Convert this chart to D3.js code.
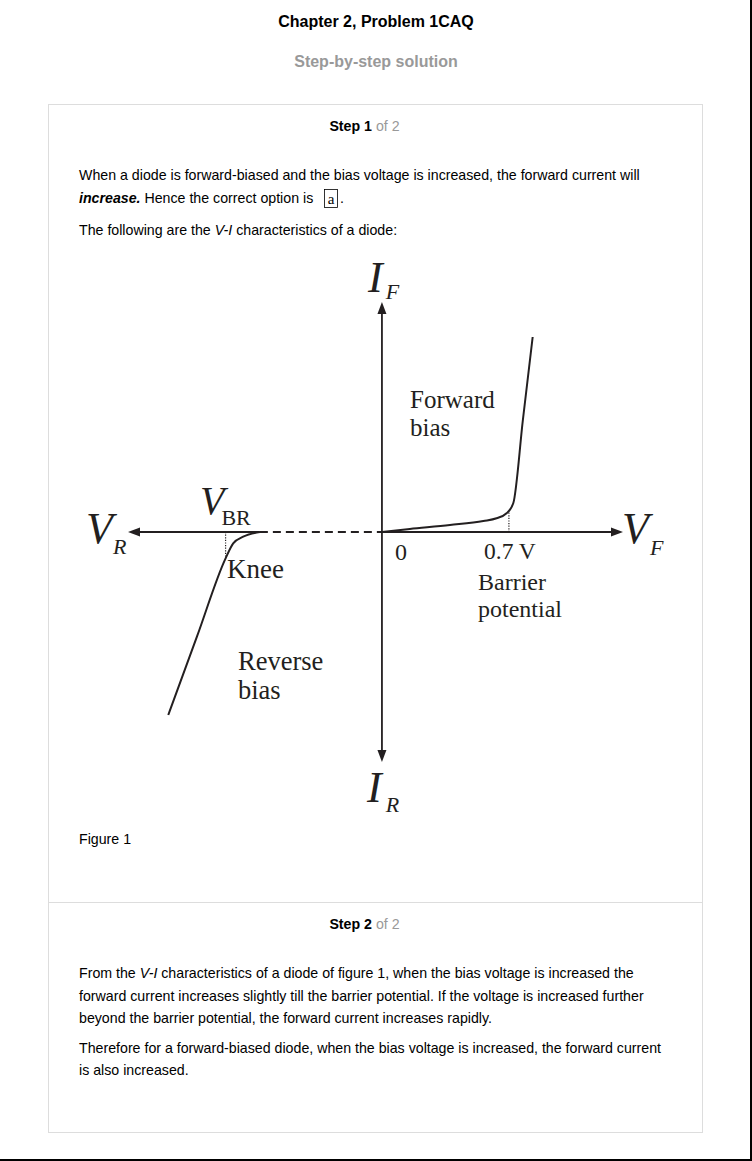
<!DOCTYPE html>
<html><head><meta charset="utf-8">
<script src="https://cdn.jsdelivr.net/npm/d3@7"></script>
<style>
html,body{margin:0;padding:0;background:#fff;}
svg{display:block;}
</style></head>
<body>
<svg id="page" width="752" height="1161"></svg>
<script>
// ---- data ----
const forwardV = [0, 0.154, 0.375, 0.559, 0.632, 0.687, 0.724, 0.777, 0.831];
const forwardI = [0, 0.3, 0.7, 1.1, 1.37, 1.87, 2.87, 11.2, 19.5];
const reverseV = [-1.178, -1.020, -0.862, -0.820, -0.765, -0.673];
const reverseI = [-18.3, -10.47, -2.63, -1.13, -0.47, 0];
const kneeV = [-0.862, 0.7];
const kneeI = [-2.63, 2.1];
const vDomain = [-1.4, 1.329];
const iDomain = [-23, 23];

const svg = d3.select("#page");
const ink = "#231f20";
const sans = "'Liberation Sans', Arial, sans-serif";
const serif = "'Liberation Serif', 'Times New Roman', serif";
const bodySize = 14.2;

// page frame
svg.append("line").attr("x1",751).attr("x2",751).attr("y1",0).attr("y2",1161).attr("stroke","#000").attr("stroke-width",2);
svg.append("line").attr("x1",0).attr("x2",752).attr("y1",1160).attr("y2",1160).attr("stroke","#000").attr("stroke-width",2);
// box
svg.append("rect").attr("x",48.5).attr("y",104.5).attr("width",654).attr("height",1028)
  .attr("fill","none").attr("stroke","#ddd").attr("stroke-width",1);
svg.append("line").attr("x1",48.5).attr("x2",702.5).attr("y1",902.5).attr("y2",902.5).attr("stroke","#ddd");

// headings
svg.append("text").attr("x",376).attr("y",27).attr("text-anchor","middle")
  .attr("font-family",sans).attr("font-size",16).attr("font-weight","bold").attr("fill","#000")
  .text("Chapter 2, Problem 1CAQ");
svg.append("text").attr("x",376).attr("y",67).attr("text-anchor","middle")
  .attr("font-family",sans).attr("font-size",16).attr("font-weight","bold").attr("fill","#999")
  .text("Step-by-step solution");

function stepHead(y, n){
  const t = svg.append("text").attr("x",364.5).attr("y",y).attr("text-anchor","middle")
    .attr("font-family",sans).attr("font-size",bodySize);
  t.append("tspan").attr("font-weight","bold").attr("fill","#000").text("Step "+n+" ");
  t.append("tspan").attr("fill","#999").text("of 2");
}
stepHead(131, 1);
stepHead(929, 2);

function para(x, y, parts){
  const t = svg.append("text").attr("x",x).attr("y",y).attr("font-family",sans).attr("font-size",bodySize).attr("fill","#000");
  parts.forEach(p=>{
    const s = t.append("tspan").text(p.t);
    if(p.b) s.attr("font-weight","bold");
    if(p.i) s.attr("font-style","italic");
  });
  return t;
}
para(79,180,[{t:"When a diode is forward-biased and the bias voltage is increased, the forward current will"}]);
para(79,203,[{t:"increase.",b:1,i:1},{t:" Hence the correct option is"}]);
const ox = 324;
svg.append("rect").attr("x",ox+0.5).attr("y",189.5).attr("width",13).attr("height",18).attr("fill","none").attr("stroke","#000").attr("stroke-width",0.8);
svg.append("text").attr("x",ox+7).attr("y",204).attr("text-anchor","middle").attr("font-family",serif).attr("font-size",15).text("a");
svg.append("text").attr("x",ox+16).attr("y",203).attr("font-family",sans).attr("font-size",bodySize).text(".");
para(79,235,[{t:"The following are the "},{t:"V-I",i:1},{t:" characteristics of a diode:"}]);
para(79,844,[{t:"Figure 1"}]);
para(79,978,[{t:"From the "},{t:"V-I",i:1},{t:" characteristics of a diode of figure 1, when the bias voltage is increased the"}]);
para(79,1001,[{t:"forward current increases slightly till the barrier potential. If the voltage is increased further"}]);
para(79,1023,[{t:"beyond the barrier potential, the forward current increases rapidly."}]);
para(79,1053,[{t:"Therefore for a forward-biased diode, when the bias voltage is increased, the forward current"}]);
para(79,1075,[{t:"is also increased."}]);

// ---- diagram ----
const x = d3.scaleLinear().domain(vDomain).range([128, 623]);
const y = d3.scaleLinear().domain(iDomain).range([762, 302]);
const g = svg.append("g");
const x0 = x(0), y0 = y(0);

// axes
g.append("line").attr("x1",x0).attr("x2",x0).attr("y1",y(iDomain[1])+8).attr("y2",y(iDomain[0])-8)
  .attr("stroke",ink).attr("stroke-width",1.8);
g.append("line").attr("x1",x(vDomain[0])+8).attr("x2",x(reverseV[reverseV.length-1])).attr("y1",y0).attr("y2",y0)
  .attr("stroke",ink).attr("stroke-width",1.8);
g.append("line").attr("x1",x(reverseV[reverseV.length-1])).attr("x2",x0).attr("y1",y0).attr("y2",y0)
  .attr("stroke",ink).attr("stroke-width",1.8).attr("stroke-dasharray","8,5");
g.append("line").attr("x1",x0).attr("x2",x(vDomain[1])-8).attr("y1",y0).attr("y2",y0)
  .attr("stroke",ink).attr("stroke-width",1.8);

function arrow(tx, ty, dir){
  const L=12, W=4.5;
  let p;
  if(dir==="up") p=[[tx,ty],[tx-W,ty+L],[tx+W,ty+L]];
  if(dir==="down") p=[[tx,ty],[tx-W,ty-L],[tx+W,ty-L]];
  if(dir==="left") p=[[tx,ty],[tx+L,ty-W],[tx+L,ty+W]];
  if(dir==="right") p=[[tx,ty],[tx-L,ty-W],[tx-L,ty+W]];
  g.append("path").attr("d","M"+p.map(d=>d.join(",")).join("L")+"Z").attr("fill",ink);
}
arrow(x0, y(iDomain[1]), "up");
arrow(x0, y(iDomain[0]), "down");
arrow(x(vDomain[0]), y0, "left");
arrow(x(vDomain[1]), y0, "right");

// curves
const line = d3.line().x(d=>x(d[0])).y(d=>y(d[1])).curve(d3.curveMonotoneX);
g.append("path").datum(forwardV.map((v,i)=>[v,forwardI[i]])).attr("d",line)
  .attr("fill","none").attr("stroke",ink).attr("stroke-width",2);
g.append("path").datum(reverseV.map((v,i)=>[v,reverseI[i]])).attr("d",line)
  .attr("fill","none").attr("stroke",ink).attr("stroke-width",2);

// dotted knee markers
kneeV.forEach((v,i)=>{
  g.append("line").attr("x1",x(v)).attr("x2",x(v)).attr("y1",y0).attr("y2",y(kneeI[i]))
    .attr("stroke",ink).attr("stroke-width",1.2).attr("stroke-dasharray","1.2,1.4");
});

// labels
function lbl(tx, ty, txt, size, italic){
  return g.append("text").attr("x",tx).attr("y",ty).attr("font-family",serif).attr("font-size",size)
    .attr("font-style",italic?"italic":"normal").attr("fill",ink).text(txt);
}
function sub(tx, ty, main, size, s, sSize, dx, dy, sItalic){
  const t = g.append("text").attr("x",tx).attr("y",ty).attr("font-family",serif).attr("fill",ink);
  t.append("tspan").attr("font-size",size).attr("font-style","italic").text(main);
  t.append("tspan").attr("font-size",sSize).attr("font-style",sItalic?"italic":"normal")
    .attr("dx",dx).attr("dy",dy).text(s);
}
sub(368, 292, "I", 44, "F", 22, 3, 7, true);
sub(86, 543, "V", 44, "R", 22, 0, 11, true);
sub(622, 543, "V", 44, "F", 22, 1, 12, true);
sub(367, 802, "I", 44, "R", 22, 4, 10, true);
sub(200, 514, "V", 40, "BR", 22, -3, 11, false);
lbl(227, 578, "Knee", 27, false);
lbl(395, 560, "0", 24, false);
lbl(484, 559, "0.7 V", 23.5, false);
lbl(478, 590, "Barrier", 24, false);
lbl(478, 617, "potential", 24, false);
lbl(410, 408, "Forward", 25, false);
lbl(410, 436, "bias", 25, false);
lbl(238, 670, "Reverse", 26.5, false);
lbl(238, 699, "bias", 26.5, false);
</script>
</body></html>
